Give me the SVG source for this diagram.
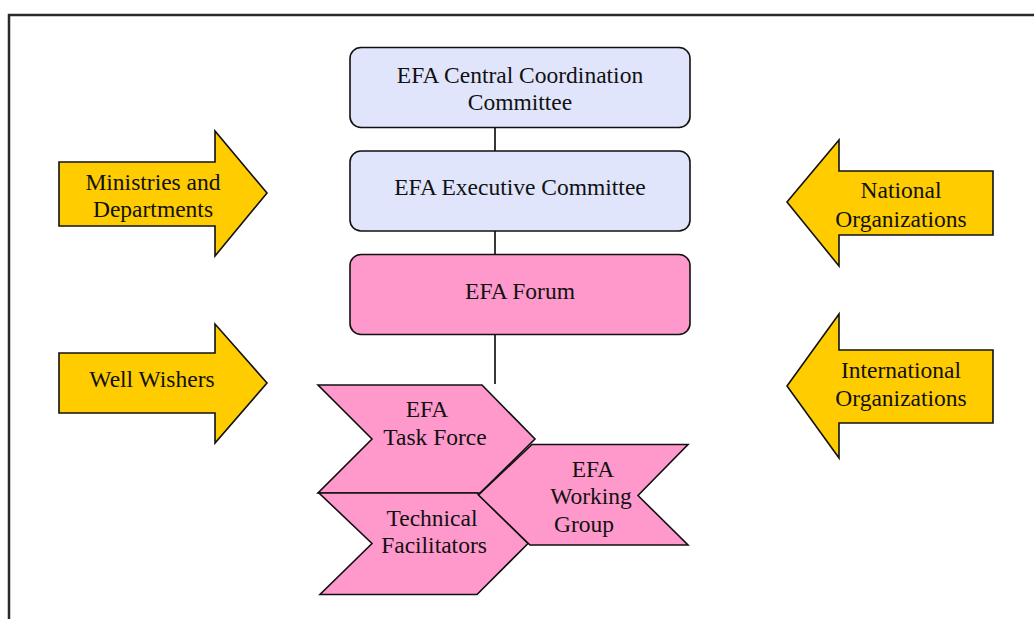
<svg xmlns="http://www.w3.org/2000/svg" width="1034" height="619" viewBox="0 0 1034 619">
<style>
  .t { font-family: "Liberation Serif", "Times New Roman", serif; font-size: 23.5px; fill: #111; text-anchor: middle; }
  .box { stroke: #111; stroke-width: 1.6; }
  .blue { fill: #E0E5FC; }
  .pink { fill: #FF99CC; }
  .yellow { fill: #FFCC00; stroke: #111; stroke-width: 1.6; stroke-linejoin: miter; }
  .chev { fill: #FF99CC; stroke: #111; stroke-width: 1.6; stroke-linejoin: miter; }
  .conn { stroke: #222; stroke-width: 1.8; fill: none; }
</style>
<rect x="0" y="0" width="1034" height="619" fill="#ffffff"/>
<rect id="frame" x="9" y="15" width="1100" height="700" fill="none" stroke="#2a2a2a" stroke-width="2.5"/>

<g id="connectors">
  <line class="conn" x1="495" y1="127" x2="495" y2="151"/>
  <line class="conn" x1="495" y1="231" x2="495" y2="254"/>
  <line class="conn" x1="495" y1="335" x2="495" y2="384"/>
</g>

<g id="central">
  <rect class="box blue" x="350" y="47.5" width="340" height="80" rx="11"/>
  <text class="t" x="520" y="83">EFA Central Coordination</text>
  <text class="t" x="520" y="110">Committee</text>
</g>
<g id="executive">
  <rect class="box blue" x="350" y="151" width="340" height="80" rx="11"/>
  <text class="t" x="520" y="194.5">EFA Executive Committee</text>
</g>
<g id="forum">
  <rect class="box pink" x="350" y="254.5" width="340" height="80" rx="11"/>
  <text class="t" x="520" y="299">EFA Forum</text>
</g>

<g id="ministries">
  <polygon class="yellow" points="59,162 215,162 215,131 267,193 215,256 215,226 59,226"/>
  <text class="t" x="153" y="190">Ministries and</text>
  <text class="t" x="153" y="217">Departments</text>
</g>
<g id="wellwishers">
  <polygon class="yellow" points="59,353 215,353 215,324 267,383 215,443 215,413 59,413"/>
  <text class="t" x="152" y="387">Well Wishers</text>
</g>
<g id="national">
  <polygon class="yellow" points="993,171 839,171 839,140 787,202 839,266 839,235 993,235"/>
  <text class="t" x="901" y="198">National</text>
  <text class="t" x="901" y="226.5">Organizations</text>
</g>
<g id="international">
  <polygon class="yellow" points="993,350 839,350 839,314 787,386 839,458 839,423 993,423"/>
  <text class="t" x="901" y="378">International</text>
  <text class="t" x="901" y="406">Organizations</text>
</g>

<g id="taskforce">
  <polygon class="chev" points="318,385 482,385 535,439 480,493 318,493 372,439"/>
  <text class="t" x="427" y="417">EFA</text>
  <text class="t" x="435" y="445">Task Force</text>
</g>
<g id="technical">
  <polygon class="chev" points="319,493 477,493 528,543.5 477,594.5 320,594.5 372,543.5"/>
  <text class="t" x="432" y="526">Technical</text>
  <text class="t" x="434" y="553">Facilitators</text>
</g>
<g id="workinggroup">
  <polygon class="chev" points="532,444.5 688,444.5 638,495.5 688,545 530,545 478.5,495"/>
  <text class="t" x="593" y="477">EFA</text>
  <text class="t" x="591" y="503.5">Working</text>
  <text class="t" x="584" y="532">Group</text>
</g>
</svg>
